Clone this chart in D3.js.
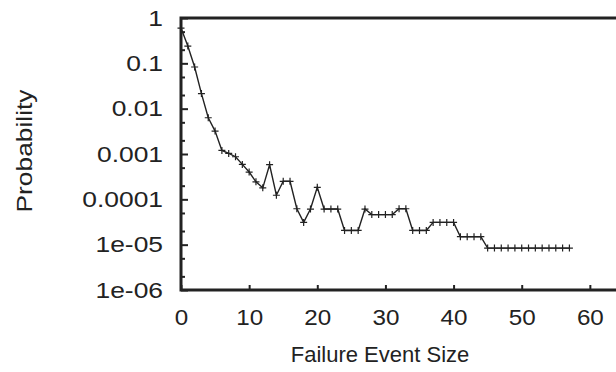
<!DOCTYPE html>
<html lang="en">
<head>
    <meta charset="utf-8">
    <script src="https://d3js.org/d3.v7.min.js"></script>
    <style>
        body { margin: 0; background: #fff; }
        svg { display: block; }
        text { font-family: "Liberation Sans", Arial, sans-serif; fill: #222; }
    </style>
</head>
<body>

<svg id="vis_1" width="616" height="372"></svg>

<script>

    // failure event sizes and their probabilities
    let event_size = d3.range(0, 58);
    let probability = [
        0.6, 0.24, 0.083, 0.0215, 0.0063, 0.0032, 0.0012, 0.00103, 0.00087, 0.00059,
        0.0004, 0.000243, 0.000179, 0.00058, 0.000123, 0.00025, 0.00025, 6.2e-5, 3.1e-5, 6.1e-5,
        0.000184, 6.1e-5, 6.1e-5, 6.1e-5, 2.06e-5, 2.06e-5, 2.06e-5, 6.1e-5, 4.6e-5, 4.6e-5,
        4.6e-5, 4.6e-5, 6.2e-5, 6.2e-5, 2.06e-5, 2.06e-5, 2.06e-5, 3.1e-5, 3.1e-5, 3.1e-5,
        3.1e-5, 1.5e-5, 1.5e-5, 1.5e-5, 1.5e-5, 8.4e-6, 8.4e-6, 8.4e-6, 8.4e-6, 8.4e-6,
        8.4e-6, 8.4e-6, 8.4e-6, 8.4e-6, 8.4e-6, 8.4e-6, 8.4e-6, 8.4e-6
    ];

    let x_ticks = [0, 10, 20, 30, 40, 50, 60];
    let y_ticks = [1, 0.1, 0.01, 0.001, 0.0001, 1e-5, 1e-6];
    let y_tick_labels = ["1", "0.1", "0.01", "0.001", "0.0001", "1e-05", "1e-06"];
    let y_minor = [];
    y_ticks.slice(1).forEach(d => { y_minor.push(d * 2, d * 5); });

    let data = event_size.map((x, i) => ({x: x, p: probability[i]}));

    var svg = d3.select("#vis_1");

    // plot area; the right edge falls outside the picture
    var plot_l = 181, plot_t = 18, plot_b = 290, plot_r = 658;

    var x = d3.scaleLinear().domain([0, 70]).range([plot_l, plot_r]);
    var y = d3.scaleLog().domain([1e-6, 1]).range([plot_b, plot_t]);

    // minor y ticks
    svg.append("g")
        .attr("transform", "translate(" + plot_l + ",0)")
        .call(d3.axisLeft(y).tickValues(y_minor).tickSize(-4).tickFormat(""))
        .call(g => g.select(".domain").remove())
        .call(g => g.selectAll("line").attr("stroke", "#222").attr("stroke-width", 2));

    // major y ticks
    svg.append("g")
        .attr("transform", "translate(" + plot_l + ",0)")
        .call(d3.axisLeft(y).tickValues(y_ticks).tickSize(-7).tickPadding(18)
            .tickFormat((d, i) => y_tick_labels[i]))
        .call(g => g.select(".domain").remove())
        .call(g => g.selectAll("line").attr("stroke", "#222").attr("stroke-width", 2))
        .call(g => g.selectAll("text").style("font-size", "22px").attr("fill", "#222")
            .attr("font-family", "Liberation Sans, Arial, sans-serif")
            .attr("x", 0)
            .attr("transform", "translate(-18,0) scale(1.2,1)"));

    // x ticks
    svg.append("g")
        .attr("transform", "translate(0," + plot_b + ")")
        .call(d3.axisBottom(x).tickValues(x_ticks).tickSize(-5).tickPadding(19))
        .call(g => g.select(".domain").remove())
        .call(g => g.selectAll("line").attr("stroke", "#222").attr("stroke-width", 2))
        .call(g => g.selectAll("text").style("font-size", "22px").attr("fill", "#222")
            .attr("font-family", "Liberation Sans, Arial, sans-serif")
            .attr("transform", "scale(1.1,1)"));

    // frame: left, bottom, top
    svg.append("path")
        .attr("d", "M" + plot_r + "," + plot_t + "H" + plot_l + "V" + plot_b + "H" + plot_r)
        .attr("fill", "none")
        .attr("stroke", "#222")
        .attr("stroke-width", 3);

    // data line
    var line = d3.line().x(d => x(d.x)).y(d => y(d.p));

    svg.append("path")
        .datum(data)
        .attr("d", line)
        .attr("fill", "none")
        .attr("stroke", "#222")
        .attr("stroke-width", 1.4);

    // plus markers
    svg.selectAll("path.pt")
        .data(data)
        .enter()
        .append("path")
        .attr("class", "pt")
        .attr("d", d => {
            var cx = x(d.x), cy = y(d.p), r = 3.5;
            return "M" + (cx - r) + "," + cy + "H" + (cx + r) + "M" + cx + "," + (cy - r) + "V" + (cy + r);
        })
        .attr("stroke", "#222")
        .attr("stroke-width", 1.2);

    // axis titles
    svg.append("text")
        .attr("x", 380)
        .attr("y", 362)
        .attr("text-anchor", "middle")
        .style("font-size", "22px")
        .text("Failure Event Size");

    svg.append("text")
        .attr("transform", "translate(32,151) rotate(-90)")
        .attr("text-anchor", "middle")
        .attr("textLength", 123)
        .attr("lengthAdjust", "spacingAndGlyphs")
        .style("font-size", "22px")
        .text("Probability");

</script>

</body>
</html>
